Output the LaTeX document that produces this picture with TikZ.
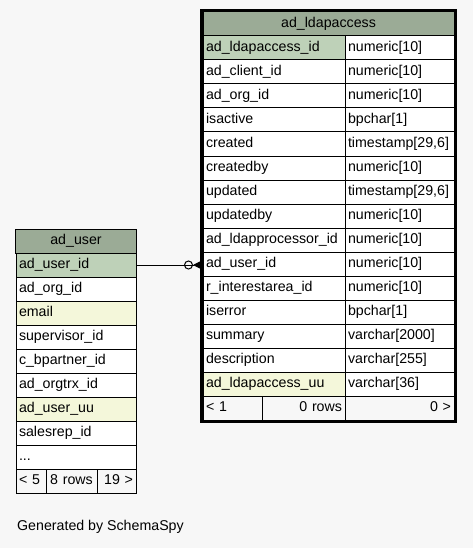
\documentclass[tikz,border=0pt]{standalone}
\usepackage{fontspec}
\usepackage{tikz}
\usetikzlibrary{arrows.meta,positioning,calc}
\newfontfamily\schemafont{Liberation Sans}
\newcommand{\cellfont}{\schemafont\fontsize{14.2bp}{16bp}\selectfont}
\definecolor{pagebg}{HTML}{F7F7F7}
\definecolor{headgreen}{HTML}{9BAB96}
\definecolor{keygreen}{HTML}{BED1B8}
\definecolor{idxyellow}{HTML}{F4F7DA}

\tikzset{
	cell/.style={draw, fill=white, line width=1bp, inner xsep=3bp, inner ysep=0pt, outer sep=0pt,
		minimum height=24bp, text height=10bp, text depth=3bp, font=\cellfont},
	head/.style={cell, fill=headgreen, align=center},
	namecol/.style={cell, text width=136bp, align=left},
	typecol/.style={cell, text width=103bp, align=left},
	usercol/.style={cell, text width=114bp, align=left},
	foot/.style={cell, fill=pagebg},
	fk/.style={-{Circle[open,length=9bp,width=9bp] Triangle[reversed,length=8bp,width=8bp]},
		line width=1bp, shorten >=2bp}
}

\begin{document}
\begin{tikzpicture}[x=1bp, y=-1bp, node distance=0pt]

	\fill [pagebg] (0,0) rectangle (473,548);
	\useasboundingbox (0,0) rectangle (473,548);

	% ad_user
	\node [head, text width=114bp] (u-head) at (76,241) {ad\_user};
	\node [usercol, fill=keygreen, anchor=north west] (u-id) at (16,253) {ad\_user\_id};
	\node [usercol] (u-org) [below=of u-id] {ad\_org\_id};
	\node [usercol, fill=idxyellow] (u-email) [below=of u-org] {email};
	\node [usercol] (u-super) [below=of u-email] {supervisor\_id};
	\node [usercol] (u-bp) [below=of u-super] {c\_bpartner\_id};
	\node [usercol] (u-trx) [below=of u-bp] {ad\_orgtrx\_id};
	\node [usercol, fill=idxyellow] (u-uu) [below=of u-trx] {ad\_user\_uu};
	\node [usercol] (u-sales) [below=of u-uu] {salesrep\_id};
	\node [usercol] (u-more) [below=of u-sales] {...};
	\node [foot, text width=24bp, align=left, anchor=north west] (u-f1) at (u-more.south west) {< 5};
	\node [foot, text width=45bp, align=center] (u-f2) [right=of u-f1] {8 rows};
	\node [foot, text width=33bp, align=right] (u-f3) [right=of u-f2] {19 >};

	% ad_ldapaccess
	\node [head, text width=245bp] (la-head) at (328.5,24) {ad\_ldapaccess};
	\node [namecol, fill=keygreen, anchor=north west] (la-id) at (203,36) {ad\_ldapaccess\_id};
	\node [namecol] (la-client) [below=of la-id] {ad\_client\_id};
	\node [namecol] (la-org) [below=of la-client] {ad\_org\_id};
	\node [namecol] (la-active) [below=of la-org] {isactive};
	\node [namecol] (la-created) [below=of la-active] {created};
	\node [namecol] (la-createdby) [below=of la-created] {createdby};
	\node [namecol] (la-updated) [below=of la-createdby] {updated};
	\node [namecol] (la-updatedby) [below=of la-updated] {updatedby};
	\node [namecol] (la-proc) [below=of la-updatedby] {ad\_ldapprocessor\_id};
	\node [namecol] (la-user) [below=of la-proc] {ad\_user\_id};
	\node [namecol] (la-area) [below=of la-user] {r\_interestarea\_id};
	\node [namecol] (la-error) [below=of la-area] {iserror};
	\node [namecol] (la-summary) [below=of la-error] {summary};
	\node [namecol] (la-descr) [below=of la-summary] {description};
	\node [namecol, fill=idxyellow] (la-uu) [below=of la-descr] {ad\_ldapaccess\_uu};

	\node [typecol] (la-id-t) [right=of la-id] {numeric[10]};
	\node [typecol] (la-client-t) [right=of la-client] {numeric[10]};
	\node [typecol] (la-org-t) [right=of la-org] {numeric[10]};
	\node [typecol] (la-active-t) [right=of la-active] {bpchar[1]};
	\node [typecol] (la-created-t) [right=of la-created] {timestamp[29,6]};
	\node [typecol] (la-createdby-t) [right=of la-createdby] {numeric[10]};
	\node [typecol] (la-updated-t) [right=of la-updated] {timestamp[29,6]};
	\node [typecol] (la-updatedby-t) [right=of la-updatedby] {numeric[10]};
	\node [typecol] (la-proc-t) [right=of la-proc] {numeric[10]};
	\node [typecol] (la-user-t) [right=of la-user] {numeric[10]};
	\node [typecol] (la-area-t) [right=of la-area] {numeric[10]};
	\node [typecol] (la-error-t) [right=of la-error] {bpchar[1]};
	\node [typecol] (la-summary-t) [right=of la-summary] {varchar[2000]};
	\node [typecol] (la-descr-t) [right=of la-descr] {varchar[255]};
	\node [typecol] (la-uu-t) [right=of la-uu] {varchar[36]};

	\node [foot, text width=53bp, align=left, anchor=north west] (la-f1) at (la-uu.south west) {< 1};
	\node [foot, text width=77bp, align=right] (la-f2) [right=of la-f1] {0 rows};
	\node [foot, text width=103bp, align=right] (la-f3) [right=of la-f2] {0 >};

	\draw [line width=3bp] ($(la-head.north west)+(-1.5,-1.5)$) rectangle ($(la-f3.south east)+(1.5,1.5)$);

	\draw [fk] (u-id.east) -- (u-id.east -| la-user.west);

	\node [font=\cellfont, anchor=west, inner sep=0pt] (credit) at (17,527) {Generated by SchemaSpy};

\end{tikzpicture}
\end{document}
